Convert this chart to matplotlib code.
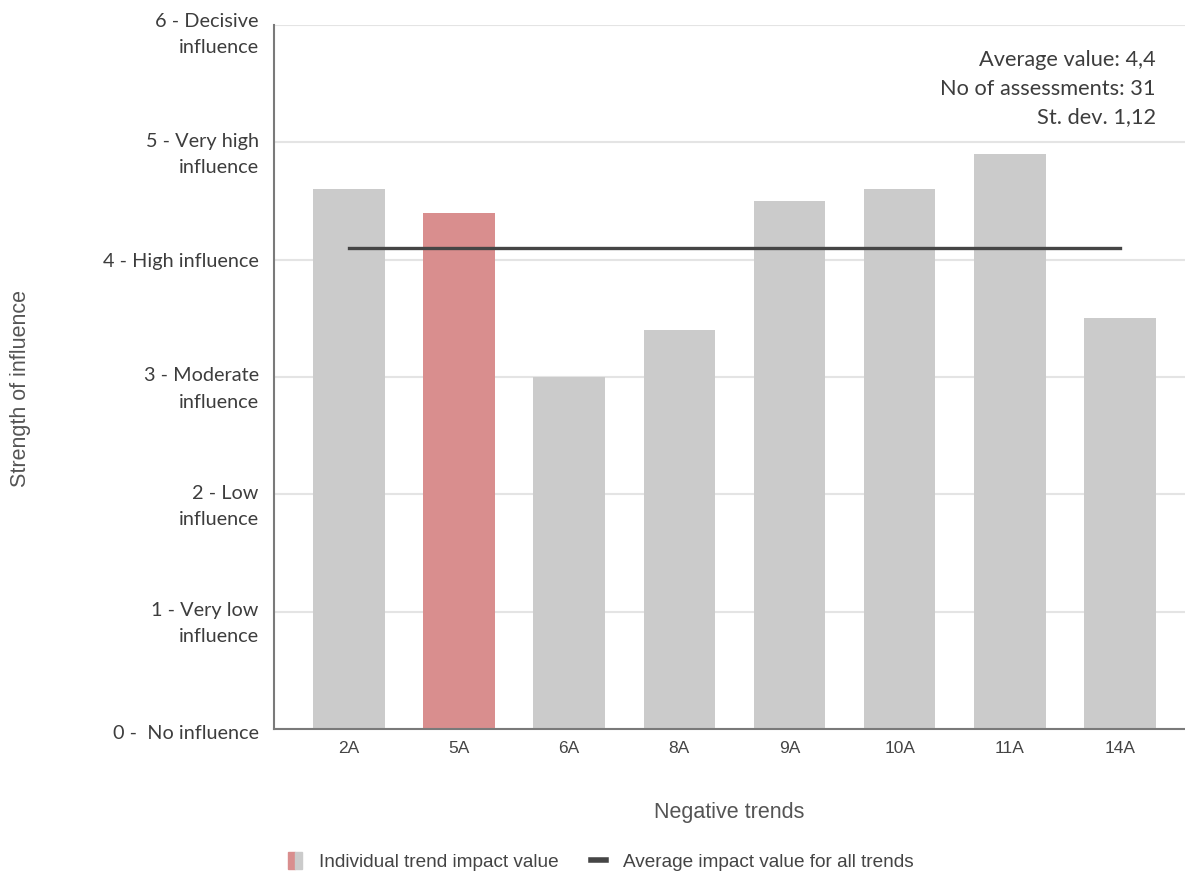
import numpy as np
import matplotlib.pyplot as plt
from matplotlib.patches import Patch
from matplotlib.lines import Line2D
from matplotlib.legend_handler import HandlerTuple
from matplotlib.transforms import ScaledTranslation

# Impact strength per negative trend
trends = ["2A", "5A", "6A", "8A", "9A", "10A", "11A", "14A"]
impact = [4.6, 4.4, 3.0, 3.4, 4.5, 4.6, 4.9, 3.5]
highlight = "5A"
avg_all_trends = 4.1

# Summary for the highlighted trend
trend_avg = 4.4
n_assessments = 31
st_dev = 1.12

y_levels = [0, 1, 2, 3, 4, 5, 6]
y_labels = ["0 -  No influence", "1 - Very low\ninfluence", "2 - Low\ninfluence",
            "3 - Moderate\ninfluence", "4 - High influence", "5 - Very high\ninfluence",
            "6 - Decisive\ninfluence"]

GRAY = "#cbcbcb"
PINK = "#d98e8e"
DARK = "#454545"

fig = plt.figure(figsize=(11.85, 8.75), dpi=100)
ax = fig.add_axes([0.2312, 0.1669, 0.7688, 0.8045])

x = np.arange(len(trends))
colors = [PINK if t == highlight else GRAY for t in trends]
ax.bar(x, impact, width=0.65, color=colors, zorder=2)
ax.plot([x[0], x[-1]], [avg_all_trends, avg_all_trends], color=DARK, lw=2.4, zorder=3)

ax.set_xlim(-0.68, 7.59)
ax.set_ylim(0, 6)
ax.set_yticks(y_levels)
ax.set_yticklabels(y_labels, fontfamily="Lato", fontsize=14.3, color="#3d3d3d",
                   linespacing=1.66)
ax.set_xticks(x)
ax.set_xticklabels(trends, fontfamily="Liberation Sans", fontsize=12.5, color="#444444")
ax.tick_params(axis="y", length=0, pad=11)
ax.tick_params(axis="x", length=0, pad=9)

# two-line labels sit a little below their gridline
for lbl in ax.get_yticklabels():
    txt = lbl.get_text()
    if txt.startswith("6"):
        dy = -0.03
    elif "\n" in txt:
        dy = -0.06
    elif txt.startswith("0"):
        dy = -0.03
    else:
        dy = 0
    lbl.set_transform(lbl.get_transform() + ScaledTranslation(0, dy, fig.dpi_scale_trans))

ax.grid(axis="y", color="#e4e4e4", lw=1.5, zorder=0)
ax.set_axisbelow(True)
for side in ["top", "right"]:
    ax.spines[side].set_visible(False)
for side in ["left", "bottom"]:
    ax.spines[side].set_color("#7a7a7a")
    ax.spines[side].set_linewidth(1.5)

ax.set_xlabel("Negative trends", fontfamily="Liberation Sans", fontsize=15.5,
              color="#555555", labelpad=33)
fig.text(0.017, 0.556, "Strength of influence", rotation=90, ha="center", va="center",
         fontfamily="Liberation Sans", fontsize=15.5, color="#555555")

summary = (f"Average value: {str(trend_avg).replace('.', ',')}\n"
           f"No of assessments: {n_assessments}\n"
           f"St. dev. {str(st_dev).replace('.', ',')}")
fig.text(0.9755, 0.943, summary, ha="right", va="top", fontfamily="Lato",
         fontsize=15.7, color="#3d3d3d", linespacing=1.54)

handles = [(Patch(color=PINK), Patch(color=GRAY)),
           Line2D([], [], color=DARK, lw=4)]
fig.legend(handles, ["Individual trend impact value", "Average impact value for all trends"],
           handler_map={tuple: HandlerTuple(ndivide=None, pad=0)},
           loc="center", bbox_to_anchor=(0.507, 0.015), ncol=2, frameon=False,
           prop={"family": "Liberation Sans", "size": 13.7}, labelcolor="#444444",
           handlelength=0.75, handleheight=1.0, columnspacing=1.7, handletextpad=0.9)

fig.savefig("out.png", dpi=100)
